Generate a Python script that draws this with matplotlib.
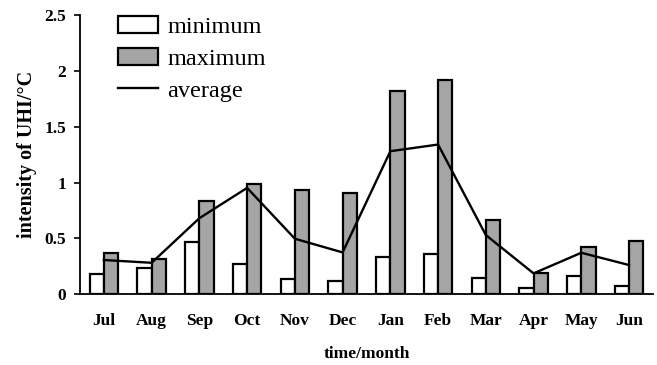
import numpy as np
import matplotlib
matplotlib.use("Agg")
import matplotlib.pyplot as plt
from matplotlib.lines import Line2D
from matplotlib.patches import Patch

# UHI intensity per month
months = ["Jul", "Aug", "Sep", "Oct", "Nov", "Dec", "Jan", "Feb", "Mar", "Apr", "May", "Jun"]
minimum = [0.18, 0.236, 0.469, 0.266, 0.131, 0.116, 0.331, 0.358, 0.14, 0.056, 0.161, 0.069]
maximum = [0.365, 0.314, 0.833, 0.988, 0.932, 0.902, 1.822, 1.917, 0.663, 0.188, 0.424, 0.475]
average = [0.305, 0.28, 0.68, 0.952, 0.496, 0.373, 1.281, 1.341, 0.529, 0.185, 0.37, 0.26]
yticks = [0, 0.5, 1, 1.5, 2, 2.5]
ytick_labels = ["0", "0.5", "1", "1.5", "2", "2.5"]

plt.rcParams["font.family"] = ["Liberation Serif", "DejaVu Serif"]

fig = plt.figure(figsize=(6.57, 3.65), dpi=100)
ax = fig.add_axes([0.1218, 0.1945, 0.872, 0.7635])

x = np.arange(len(months))
w = 0.3
gray = "#a5a5a5"
ax.bar(x - w / 2, minimum, w, color="white", edgecolor="black", linewidth=1.6, zorder=2)
ax.bar(x + w / 2, maximum, w, color=gray, edgecolor="black", linewidth=1.6, zorder=2)
ax.plot(x, average, color="black", linewidth=1.7, zorder=3)

ax.set_xlim(-0.5, 11.5)
ax.set_ylim(0, 2.5)
ax.set_xticks(x)
ax.set_xticklabels(months, fontsize=12.5, fontweight="bold")
ax.set_yticks(yticks)
ax.set_yticklabels(ytick_labels, fontsize=12.5, fontweight="bold")
ax.tick_params(axis="x", length=0, pad=14)
ax.tick_params(axis="y", length=4, width=1.2, pad=6)

for s in ["top", "right"]:
    ax.spines[s].set_visible(False)
for s in ["left", "bottom"]:
    ax.spines[s].set_linewidth(1.3)

ax.set_xlabel("time/month", fontsize=12.5, fontweight="bold", labelpad=12)
ax.set_ylabel("intensity of UHI/°C", fontsize=14.5, fontweight="bold", labelpad=5)

handles = [
    Patch(facecolor="white", edgecolor="black", linewidth=1.6),
    Patch(facecolor=gray, edgecolor="black", linewidth=1.6),
    Line2D([0], [0], color="black", linewidth=1.7),
]
ax.legend(handles, ["minimum", "maximum", "average"], loc="upper left",
          bbox_to_anchor=(0.036, 1.058), frameon=False, fontsize=17.5,
          handlelength=1.65, handleheight=0.7, handletextpad=0.4,
          labelspacing=0.4, borderpad=0.2)

fig.savefig("out.png", dpi=100)
